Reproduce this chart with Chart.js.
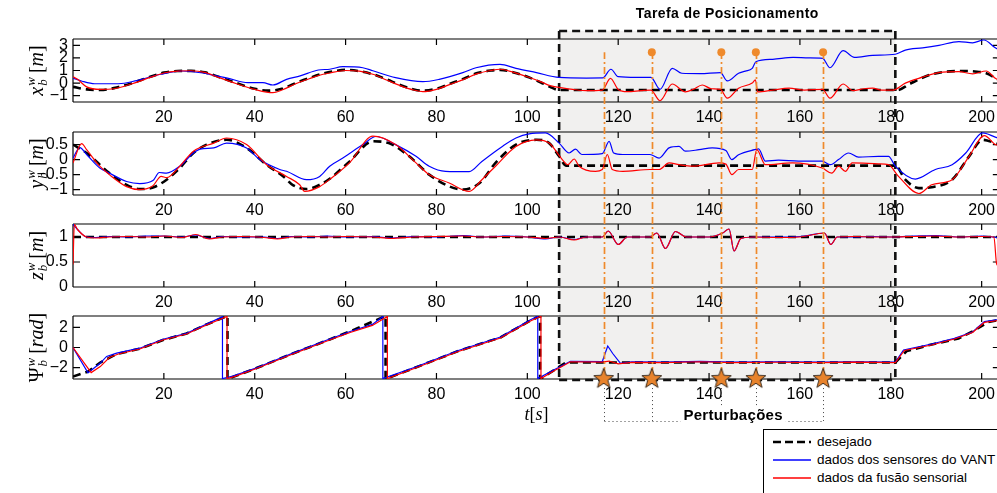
<!DOCTYPE html>
<html>
<head>
<meta charset="utf-8">
<script src="https://cdn.jsdelivr.net/npm/chart.js@4.4.1/dist/chart.umd.min.js"></script>
<style>
  html, body { margin: 0; padding: 0; background: #fff; overflow: hidden; }
  #wrap { position: relative; width: 997px; height: 493px; overflow: hidden; }
  #wrap canvas { position: absolute; left: 0; }
  #legenda { position: absolute; left: 763px; top: 429px; width: 260px; height: 80px;
    border: 1px solid #000; background: #fff; font: 13.5px "Liberation Sans", Arial, sans-serif; color: #000; }
  #legenda .item { position: absolute; left: 9px; height: 18px; line-height: 18px; white-space: nowrap; }
  #legenda svg { vertical-align: middle; margin-right: 6px; }
</style>
</head>
<body>
<div id="wrap">
  <canvas id="gx" width="1001" height="142" style="top:0px"></canvas>
  <canvas id="gy" width="1001" height="143" style="top:92px"></canvas>
  <canvas id="gz" width="1001" height="143" style="top:184px"></canvas>
  <canvas id="gpsi" width="1001" height="163" style="top:276px"></canvas>
  <div id="legenda">
    <div class="item" style="top:3px"><svg width="38" height="6"><line x1="0" y1="3" x2="38" y2="3" stroke="#000" stroke-width="2.6" stroke-dasharray="8,4"/></svg><span id="l0"></span></div>
    <div class="item" style="top:21px"><svg width="38" height="6"><line x1="0" y1="3" x2="38" y2="3" stroke="#0000ff" stroke-width="1.3"/></svg><span id="l1"></span></div>
    <div class="item" style="top:39px"><svg width="38" height="6"><line x1="0" y1="3" x2="38" y2="3" stroke="#ff0000" stroke-width="1.3"/></svg><span id="l2"></span></div>
  </div>
</div>
<script>
'use strict';

// ---- dados (tempo em s) ----
const tempoTicks = [20, 40, 60, 80, 100, 120, 140, 160, 180, 200];
const tarefa = [107, 181];
const perturbacoes = [116.8, 127.4, 142.7, 150.3, 165.1];
const marcadoresTopo = [127.4, 142.7, 150.3, 165.1];
const legendas = ['desejado', 'dados dos sensores do VANT', 'dados da fusão sensorial'];

const xTicks = [-1, 0, 1, 2, 3];
const yTicks = [-1, -0.5, 0, 0.5];
const zTicks = [0, 0.5, 1];
const psiTicks = [-2, 0, 2];

const xDesejado = [[0,-0.3],[3,-0.5],[6,-0.55],[9,-0.4],[13,0.0],[17,0.5],[20,0.83],[23,0.96],[26,0.97],[29,0.85],[32,0.5],[36,0.0],[40,-0.45],[43,-0.6],[46,-0.45],[49,0.0],[52,0.4],[55,0.75],[58,0.98],[60,1.05],[63,0.95],[66,0.7],[69,0.3],[72,-0.15],[75,-0.5],[77,-0.6],[80,-0.45],[83,-0.05],[86,0.35],[89,0.8],[92,1.0],[94,1.05],[97,0.85],[100,0.5],[103,0.05],[105,-0.3],[107,-0.55],[130,-0.55],[160,-0.55],[181.5,-0.55],[184,-0.1],[186.8,0.4],[189,0.7],[192,0.9],[196.5,0.96],[199,0.9],[201,0.78],[203,0.4],[204,0.2]];
const xVant = [[0,0.4],[2,0.15],[4.8,-0.05],[10,-0.05],[14,0.2],[19.3,0.7],[24,0.96],[28.6,0.8],[30,0.7],[34,0.4],[38.5,0.03],[41.8,0.03],[44,-0.15],[47,0.3],[50,0.57],[54,1.04],[56.5,1.1],[59.4,1.3],[63.8,1.22],[66,0.98],[71,0.43],[77,0.11],[80.6,0.3],[85.8,0.83],[88.7,1.22],[94,1.49],[97.5,1.17],[102,0.83],[107,0.45],[113,0.4],[116.6,0.41],[118.4,1.1],[120,0.51],[124,0.45],[127.2,0.46],[129.2,-0.5],[131.9,1.17],[134,0.78],[138,0.75],[142.5,0.83],[144,0.17],[146.5,0.78],[148,0.95],[149.5,1.17],[150.3,1.7],[154,1.89],[158.5,2.04],[162,2.0],[165,1.97],[166.6,1.22],[169.5,2.57],[172,2.04],[176,2.2],[181,2.29],[183.2,2.62],[187,2.8],[190.6,3.0],[195,3.29],[198,3.2],[200.5,3.42],[203,2.8],[204,2.6]];
const xFusao = [[0,0.5],[1,0.3],[3,-0.3],[6,-0.5],[9,-0.45],[13,-0.05],[17,0.45],[20,0.8],[23,0.95],[26,0.98],[29,0.85],[32,0.45],[36,-0.05],[40,-0.5],[44,-0.76],[46,-0.55],[49,-0.05],[52,0.35],[54,0.6],[56.5,0.8],[60,1.0],[63,0.95],[66,0.7],[69,0.25],[72,-0.2],[75,-0.55],[77,-0.68],[80,-0.5],[83,-0.1],[86,0.3],[89,0.75],[92,1.0],[94,1.1],[97,0.85],[100,0.5],[103,0.1],[105,-0.2],[108,-0.4],[110,-0.5],[113,-0.6],[116.5,-0.55],[118.3,0.38],[120,-0.5],[122,-0.68],[125,-0.6],[127.2,-0.55],[129.2,-1.4],[131.9,-0.07],[134.8,-0.7],[136.5,-0.5],[138.5,-0.15],[140.5,-0.45],[142.5,-0.5],[144,-1.2],[146.5,-0.4],[149.5,0.0],[150.2,0.25],[150.7,-0.7],[154,-0.55],[157.6,-0.4],[161,-0.55],[165,-0.5],[166.6,-1.2],[169.5,-0.07],[171.7,-0.6],[174,-0.45],[176,-0.4],[178,-0.55],[180.5,-0.55],[183.2,0.0],[186.8,0.45],[190.6,0.83],[195,0.91],[198,0.73],[201,0.96],[203,0.38],[204,0.2]];

const yDesejado = [[0,0.5],[3,0.22],[5.9,-0.17],[8,-0.45],[11.8,-0.84],[14.7,-0.98],[17.6,-0.93],[20.6,-0.67],[23.5,-0.28],[26.5,0.22],[29.4,0.5],[33.8,0.66],[38.2,0.39],[42.6,-0.17],[46.3,-0.56],[48.4,-0.85],[51.4,-0.98],[54.3,-0.84],[56.5,-0.64],[60.9,-0.06],[66,0.61],[69.5,0.55],[74,0.11],[78.4,-0.5],[82.8,-0.89],[85.8,-1.0],[89.5,-0.78],[93,-0.11],[97.5,0.5],[102,0.66],[104.8,0.55],[107,0.11],[108.5,-0.2],[130,-0.2],[160,-0.2],[181,-0.2],[183.2,-0.67],[186.2,-0.95],[189,-0.92],[193.5,-0.67],[197.2,0.1],[200.2,0.66],[203,0.55],[204,0.5]];
const yVant = [[0,0.05],[1.5,0.4],[3,0.17],[5.9,-0.28],[8,-0.45],[11.8,-0.73],[14.7,-0.8],[17.6,-0.7],[19,-0.43],[20.6,-0.45],[23.5,-0.22],[26.5,0.22],[28,0.35],[31,0.39],[33.8,0.55],[38.2,0.39],[41.1,0.0],[45.5,-0.33],[47,-0.39],[51.4,-0.67],[54.3,-0.56],[56.5,-0.22],[59.4,0.05],[63.8,0.5],[66.7,0.77],[71,0.5],[75.5,0.11],[78.4,-0.22],[82,-0.39],[87.2,-0.4],[90,-0.06],[94.5,0.44],[97.5,0.72],[100.4,0.86],[104,0.89],[107,0.55],[109.2,0.22],[110.6,0.35],[112,0.17],[116.5,0.2],[118,0.61],[119,0.22],[121,0.17],[127,0.17],[129,0.05],[131.2,0.39],[133.4,0.44],[134.8,0.28],[137.8,0.33],[140.7,0.39],[143.7,0.3],[145,0.0],[146.5,0.16],[150,0.33],[150.9,0.36],[152.4,-0.05],[155.3,-0.02],[159.7,-0.05],[164.9,-0.05],[166.7,-0.17],[168.5,0.0],[170.7,0.22],[172.9,0.08],[177.3,0.11],[179.5,0.11],[181,-0.22],[185.4,-0.65],[189.8,-0.33],[193.5,-0.17],[196.5,0.22],[200.2,0.89],[203,0.75],[204,0.7]];
const yFusao = [[0,-0.11],[1.9,0.53],[3,0.33],[5.9,-0.22],[8,-0.5],[11.8,-0.9],[14.7,-1.0],[17.6,-0.87],[19.4,-0.56],[20.6,-0.6],[23.5,-0.22],[26.5,0.28],[31,0.55],[33.8,0.72],[38.2,0.5],[42.6,-0.17],[47,-0.56],[49.9,-0.84],[51,-1.06],[54.3,-0.9],[56.5,-0.66],[60.9,-0.1],[66,0.78],[71,0.5],[75.5,-0.11],[78.4,-0.5],[82.8,-0.78],[87.2,-1.06],[90,-0.67],[93,-0.22],[97.5,0.44],[102,0.66],[104.8,0.55],[107.7,0.0],[108.9,-0.17],[110.3,0.02],[111.4,-0.22],[115,-0.39],[116.5,-0.33],[117.6,0.17],[118.7,-0.33],[121,-0.39],[127,-0.33],[129,-0.33],[131.2,-0.11],[133.4,-0.17],[136.3,-0.22],[142.2,-0.11],[143.7,-0.15],[145,-0.5],[146.5,-0.33],[149.5,-0.33],[150.5,0.33],[152.4,-0.17],[158.3,-0.11],[164.9,-0.28],[167,-0.45],[168.5,-0.22],[170,-0.39],[171.5,-0.11],[177.3,-0.14],[179.5,-0.17],[181.7,-0.56],[186.2,-1.13],[189,-0.84],[193.5,-0.67],[197.2,0.1],[200.6,0.8],[203,0.5],[204,0.45]];

const zDesejado = [[0,1.0],[204,1.0]];
const zVant = [[0,1.25],[1,1.15],[3,1.0],[5,0.99],[8,1.01],[12,1.0],[16,1.02],[20,1.02],[24,1.0],[27,1.04],[30,0.97],[33,1.01],[37,1.0],[42,1.0],[45,0.97],[48,1.01],[52,1.0],[56,1.02],[60,1.0],[66,1.01],[70,0.98],[75,1.01],[80,1.0],[86,1.03],[90,1.0],[95,1.02],[100,1.0],[104,0.96],[107,1.0],[110.3,0.95],[113,1.0],[116.5,1.0],[117.8,1.12],[120,0.85],[122,1.0],[127,1.0],[128.5,1.08],[130.4,0.77],[132.6,1.11],[135,1.0],[140,1.0],[143,1.08],[144.4,1.16],[145.5,0.72],[147,0.97],[150,1.0],[155,1.0],[160,1.01],[165.4,1.08],[166.8,0.85],[168.2,1.0],[172,1.0],[176,1.01],[181,1.0],[185,1.02],[190,1.03],[195,1.0],[200,1.02],[202.5,1.0],[204,0.98]];
const zFusao = [[0,0.45],[0.3,1.25],[1,1.15],[3,1.0],[5,0.98],[8,1.0],[12,1.01],[16,1.0],[20,1.02],[24,0.99],[27,1.05],[30,0.96],[33,1.0],[37,1.01],[42,0.99],[45,0.96],[48,1.0],[52,1.01],[56,1.0],[60,1.01],[66,1.0],[70,0.97],[75,1.0],[80,1.01],[86,1.02],[90,1.0],[95,1.01],[100,1.0],[104,0.97],[107,1.0],[110.3,0.94],[113,1.0],[116.5,1.0],[117.8,1.12],[120,0.85],[122,1.0],[127,1.0],[128.5,1.08],[130.4,0.77],[132.6,1.11],[135,1.0],[140,1.0],[143,1.08],[144.4,1.16],[145.5,0.72],[147,0.97],[150,1.0],[155,0.99],[160,1.0],[165.4,1.08],[166.8,0.85],[168.2,1.0],[172,1.01],[176,1.0],[181,1.0],[185,1.01],[190,1.02],[195,1.0],[200,1.01],[202.7,1.0],[203.3,0.46],[204,0.4]];

const psiDesejado = [[0,-2.9],[3.3,-2.4],[6,-1.5],[9.6,-0.65],[14.7,-0.12],[19.8,0.75],[25,1.4],[29.4,2.3],[34,3.14],[34,-3.14],[40.4,-2.05],[48.4,-0.6],[56.5,0.8],[62,1.8],[68.8,3.14],[68.8,-3.14],[75.4,-2.0],[84.8,-0.35],[94.1,1.0],[100.7,2.7],[102.8,3.14],[102.8,-3.14],[108.5,-1.5],[181,-1.5],[183.5,-0.35],[189,0.3],[194.9,0.9],[198,1.6],[201.5,2.55],[204,2.75]];
const psiVant = [[0,0],[3.3,-2.52],[5.9,-1.6],[7.4,-0.89],[9.6,-0.56],[14.7,-0.07],[19.8,0.82],[25,1.41],[29.4,2.33],[32.9,3.08],[32.9,-3.1],[35.2,-2.85],[40.4,-2.03],[48.4,-0.56],[56.5,0.85],[61,1.6],[65.9,2.3],[68.2,3.1],[68.2,-3.1],[75.4,-1.95],[84.8,-0.3],[94.1,1.05],[100.7,2.76],[102.3,3.12],[102.3,-3.1],[106,-2.2],[109.5,-1.38],[116.5,-1.4],[117.7,0.15],[118.8,-0.6],[120.5,-1.58],[123,-1.42],[130,-1.45],[138,-1.38],[145,-1.45],[155,-1.42],[165,-1.45],[172,-1.42],[181,-1.45],[182.8,-0.25],[189,0.35],[194,0.91],[198,1.55],[200.6,2.58],[204,2.8]];
const psiFusao = [[0,0],[4,-2.5],[6,-1.9],[8,-1.0],[10,-0.65],[14.7,-0.15],[19.8,0.75],[25,1.35],[29.4,2.25],[33.9,3.1],[33.9,-3.1],[35.5,-2.9],[40.4,-2.1],[48.4,-0.65],[56.5,0.75],[61,1.5],[65.9,2.2],[69.2,3.1],[69.2,-3.1],[75.4,-2.05],[84.8,-0.4],[94.1,0.95],[100.7,2.65],[103,3.12],[103,-3.1],[106,-2.3],[109.5,-1.42],[116.5,-1.45],[118,-1.35],[120,-1.64],[123,-1.48],[130,-1.5],[138,-1.42],[145,-1.5],[155,-1.47],[165,-1.5],[172,-1.46],[181,-1.5],[183,-0.3],[189,0.25],[194,0.85],[198,1.5],[200.6,2.5],[204,2.72]];

// ---- estilos ----
Chart.defaults.font.family = '"Liberation Sans", Arial, sans-serif';
Chart.defaults.font.size = 16;
Chart.defaults.color = '#000';

const laranja = '#ef8a2c';
const cinza = '#f1f0ef';
const estilos = [
  {borderColor: '#000', borderWidth: 2.6, borderDash: [8, 5], order: 2},
  {borderColor: '#0000ff', borderWidth: 1.2, order: 1},
  {borderColor: '#ff0000', borderWidth: 1.2, order: 0}
];

legendas.forEach((t, i) => { document.getElementById('l' + i).textContent = t; });

function linhas(des, vant, fus, curva) {
  return [des, vant, fus].map((d, i) => Object.assign({
    label: legendas[i],
    data: d.map(p => ({x: p[0], y: p[1]})),
    pointRadius: 0,
    fill: false,
    tension: 0,
    cubicInterpolationMode: curva ? 'monotone' : 'default'
  }, estilos[i]));
}

function estrela() {
  const c = document.createElement('canvas');
  c.width = 26; c.height = 26;
  const g = c.getContext('2d');
  g.beginPath();
  for (let i = 0; i < 10; i++) {
    const r = i % 2 ? 4.4 : 10.5;
    const a = -Math.PI / 2 + i * Math.PI / 5;
    g.lineTo(13 + r * Math.cos(a), 13.8 + r * Math.sin(a));
  }
  g.closePath();
  g.fillStyle = '#e8832c';
  g.fill();
  g.strokeStyle = '#3a2a1c';
  g.lineWidth = 1;
  g.stroke();
  return c;
}

// rótulo tipo LaTeX girado 90 graus
function rotulo(ctx, bx, cy, r) {
  const fBase = (r.italico ? 'italic ' : '') + '20px "Liberation Serif", serif';
  const fReto = '20px "Liberation Serif", serif';
  const fIt = 'italic 20px "Liberation Serif", serif';
  const fEsc = 'italic 13px "Liberation Serif", serif';
  ctx.save();
  ctx.fillStyle = '#000';
  ctx.textBaseline = 'alphabetic';
  ctx.textAlign = 'left';
  const w = (t, f) => { ctx.font = f; return ctx.measureText(t).width; };
  const wb = w(r.base, fBase), ws = Math.max(w(r.sub, fEsc), w(r.sup, fEsc));
  const wl = w('[', fReto), wu = w(r.unid, fIt), wr = w(']', fReto);
  const total = wb + 1 + ws + 4 + wl + wu + wr;
  ctx.translate(bx, cy);
  ctx.rotate(-Math.PI / 2);
  let u = -total / 2;
  ctx.font = fBase; ctx.fillText(r.base, u, 0); u += wb + 1;
  ctx.font = fEsc; ctx.fillText(r.sup, u, -8); ctx.fillText(r.sub, u, 4); u += ws + 4;
  ctx.font = fReto; ctx.fillText('[', u, 0); u += wl;
  ctx.font = fIt; ctx.fillText(r.unid, u, 0); u += wu;
  ctx.font = fReto; ctx.fillText(']', u, 0);
  ctx.restore();
}

function linhasLaranja(chart, o) {
  const {ctx, chartArea: a, scales: {x, y}} = chart;
  const topo = o.primeiro ? y.getPixelForValue(o.topoValor) : a.top - o.acima;
  const base = o.ultimo ? y.getPixelForValue(o.baseValor) : a.bottom + o.abaixo;
  const pagina = chart.canvas.offsetTop;
  ctx.save();
  ctx.strokeStyle = laranja;
  ctx.lineWidth = 1.7;
  ctx.setLineDash([7, 3, 2, 3]);
  ctx.lineDashOffset = pagina + topo - 52;
  for (const t of perturbacoes) {
    const px = Math.round(x.getPixelForValue(t)) + 0.5;
    ctx.beginPath();
    ctx.moveTo(px, topo);
    ctx.lineTo(px, base);
    ctx.stroke();
  }
  ctx.restore();
}

const moldura = {
  id: 'moldura',
  beforeDraw(chart, args, o) {
    const {ctx, chartArea: a, scales: {x}} = chart;
    const x0 = x.getPixelForValue(tarefa[0]), x1 = x.getPixelForValue(tarefa[1]);
    ctx.save();
    ctx.fillStyle = cinza;
    ctx.fillRect(x0, a.top - o.acima, x1 - x0, a.bottom - a.top + o.acima + o.abaixo);
    ctx.restore();
    chart.$laranja = false;
  },
  beforeDatasetsDraw(chart, args, o) {
    const {ctx, chartArea: a, scales: {x, y}} = chart;
    ctx.save();
    // caixa dos eixos com ticks para dentro
    ctx.strokeStyle = '#000';
    ctx.lineWidth = 1.2;
    ctx.beginPath();
    ctx.moveTo(a.left, a.top); ctx.lineTo(a.right, a.top);
    ctx.moveTo(a.left, a.bottom); ctx.lineTo(a.right, a.bottom);
    ctx.moveTo(a.left, a.top); ctx.lineTo(a.left, a.bottom);
    ctx.moveTo(a.right, a.top); ctx.lineTo(a.right, a.bottom);
    for (const t of x.ticks) {
      const p = x.getPixelForValue(t.value);
      ctx.moveTo(p, a.bottom); ctx.lineTo(p, a.bottom - 6);
      ctx.moveTo(p, a.top); ctx.lineTo(p, a.top + 6);
    }
    for (const t of y.ticks) {
      const p = y.getPixelForValue(t.value);
      ctx.moveTo(a.left, p); ctx.lineTo(a.left + 7, p);
      ctx.moveTo(a.right, p); ctx.lineTo(a.right - 7, p);
    }
    ctx.stroke();
    // retângulo tracejado da tarefa
    const x0 = x.getPixelForValue(tarefa[0]), x1 = x.getPixelForValue(tarefa[1]);
    const top = a.top - o.acima, bot = a.bottom + o.abaixo;
    ctx.strokeStyle = '#111';
    ctx.lineWidth = 2.6;
    ctx.setLineDash([8, 5]);
    ctx.lineDashOffset = chart.canvas.offsetTop + top - 31;
    ctx.beginPath();
    ctx.moveTo(x0, top); ctx.lineTo(x0, bot);
    ctx.moveTo(x1, top); ctx.lineTo(x1, bot);
    ctx.stroke();
    ctx.lineDashOffset = 0;
    if (o.primeiro) { ctx.beginPath(); ctx.moveTo(x0, top); ctx.lineTo(x1, top); ctx.stroke(); }
    if (o.ultimo) { ctx.beginPath(); ctx.moveTo(x0, bot); ctx.lineTo(x1, bot); ctx.stroke(); }
    ctx.restore();
  },
  beforeDatasetDraw(chart, args, o) {
    if (chart.data.datasets[args.index].marcador && !chart.$laranja) {
      linhasLaranja(chart, o);
      chart.$laranja = true;
    }
  },
  afterDatasetsDraw(chart, args, o) {
    if (!chart.$laranja) { linhasLaranja(chart, o); chart.$laranja = true; }
  },
  afterDraw(chart, args, o) {
    const {ctx, chartArea: a, scales: {x, y}} = chart;
    rotulo(ctx, 43, (a.top + a.bottom) / 2, o.rotulo);
    ctx.save();
    ctx.fillStyle = '#000';
    if (o.primeiro) {
      ctx.font = 'bold 14px "Liberation Sans", Arial, sans-serif';
      ctx.letterSpacing = '0.4px';
      ctx.textAlign = 'center';
      ctx.textBaseline = 'middle';
      ctx.fillText('Tarefa de Posicionamento', (x.getPixelForValue(tarefa[0]) + x.getPixelForValue(tarefa[1])) / 2, a.top - 25);
    }
    if (o.ultimo) {
      // ligações pontilhadas das perturbações
      const yl = a.bottom + 42;
      const y0 = y.getPixelForValue(o.baseValor) + 10;
      const p0 = Math.round(x.getPixelForValue(perturbacoes[0])) + 0.5;
      const p1 = Math.round(x.getPixelForValue(perturbacoes[perturbacoes.length - 1])) + 0.5;
      ctx.strokeStyle = '#444';
      ctx.lineWidth = 1;
      ctx.setLineDash([1, 3]);
      ctx.beginPath();
      for (const t of perturbacoes) {
        const p = Math.round(x.getPixelForValue(t)) + 0.5;
        ctx.moveTo(p, y0); ctx.lineTo(p, yl);
      }
      ctx.moveTo(p0, yl + 0.5); ctx.lineTo(p1, yl + 0.5);
      ctx.stroke();
      ctx.setLineDash([]);
      ctx.font = 'bold 15px "Liberation Sans", Arial, sans-serif';
      ctx.letterSpacing = '0.3px';
      ctx.textAlign = 'center';
      ctx.textBaseline = 'alphabetic';
      const tx = x.getPixelForValue(o.textoPert);
      const tw = ctx.measureText('Perturbações').width;
      ctx.fillStyle = '#fff';
      ctx.fillRect(tx - tw / 2 - 3, yl - 13, tw + 6, 16);
      ctx.fillStyle = '#000';
      ctx.fillText('Perturbações', tx, yl - 1);
      ctx.letterSpacing = '0px';
      // t[s]
      const cx = (a.left + a.right) / 2, by = a.bottom + 41;
      const fI = 'italic 18px "Liberation Serif", serif', fR = '18px "Liberation Serif", serif';
      const partes = [['t', fI], ['[', fR], ['s', fI], [']', fR]];
      let tot = 0;
      for (const p of partes) { ctx.font = p[1]; tot += ctx.measureText(p[0]).width; }
      let u = cx - tot / 2;
      ctx.textAlign = 'left';
      for (const p of partes) { ctx.font = p[1]; ctx.fillText(p[0], u, by); u += ctx.measureText(p[0]).width; }
    }
    ctx.restore();
  }
};

function novoGrafico(id, datasets, yMin, yMax, ticksY, alturaX, topo, opcoes) {
  return new Chart(document.getElementById(id), {
    type: 'line',
    data: {datasets: datasets},
    options: {
      responsive: false,
      animation: false,
      events: [],
      layout: {autoPadding: false, padding: {top: topo, left: 0, right: 0, bottom: 0}},
      scales: {
        x: {
          type: 'linear', min: 0, max: 204,
          grid: {display: false, drawTicks: false},
          border: {display: false},
          afterBuildTicks: s => { s.ticks = tempoTicks.map(v => ({value: v})); },
          afterFit: s => { s.height = alturaX; },
          ticks: {padding: 6, autoSkip: false, maxRotation: 0, color: '#000', font: {size: 16}}
        },
        y: {
          type: 'linear', min: yMin, max: yMax,
          grid: {display: false, drawTicks: false},
          border: {display: false},
          afterBuildTicks: s => { s.ticks = ticksY.map(v => ({value: v})); },
          afterFit: s => { s.width = 73; },
          ticks: {padding: 5, autoSkip: false, color: '#000', font: {size: 16},
            callback: v => String(v).replace('-', '\u2212')}
        }
      },
      plugins: {legend: {display: false}, tooltip: {enabled: false}, moldura: opcoes}
    },
    plugins: [moldura]
  });
}

const dsX = linhas(xDesejado, xVant, xFusao, true);
dsX.push({
  label: 'marcadores', marcador: true, order: -1, showLine: false,
  data: marcadoresTopo.map(t => ({x: t, y: 2.45})),
  pointRadius: 4, pointBackgroundColor: laranja, pointBorderWidth: 0, clip: false
});
novoGrafico('gx', dsX, -1.5, 3.5, xTicks, 40, 39, {
  acima: 8, abaixo: 26, primeiro: true, topoValor: 2.45,
  rotulo: {base: 'x', italico: true, sub: 'b', sup: 'w', unid: 'm'}
});

novoGrafico('gy', linhas(yDesejado, yVant, yFusao, true), -1.18, 0.92, yTicks, 40, 40, {
  acima: 4, abaixo: 25,
  rotulo: {base: 'y', italico: true, sub: 'b', sup: 'w', unid: 'm'}
});

novoGrafico('gz', linhas(zDesejado, zVant, zFusao, true), 0, 1.26, zTicks, 40, 40, {
  acima: 4, abaixo: 24,
  rotulo: {base: 'z', italico: true, sub: 'b', sup: 'w', unid: 'm'}
});

const dsPsi = linhas(psiDesejado, psiVant, psiFusao, false);
dsPsi.push({
  label: 'perturbações', marcador: true, order: -1, showLine: false,
  data: perturbacoes.map(t => ({x: t, y: -3.05})),
  pointRadius: 11, pointStyle: estrela(), clip: false
});
novoGrafico('gpsi', dsPsi, -Math.PI, Math.PI, psiTicks, 60, 40, {
  acima: 5, abaixo: 1, ultimo: true, baseValor: -3.05, textoPert: 145.3,
  rotulo: {base: '\u03A8', italico: false, sub: 'b', sup: 'w', unid: 'rad'}
});
</script>
</body>
</html>
